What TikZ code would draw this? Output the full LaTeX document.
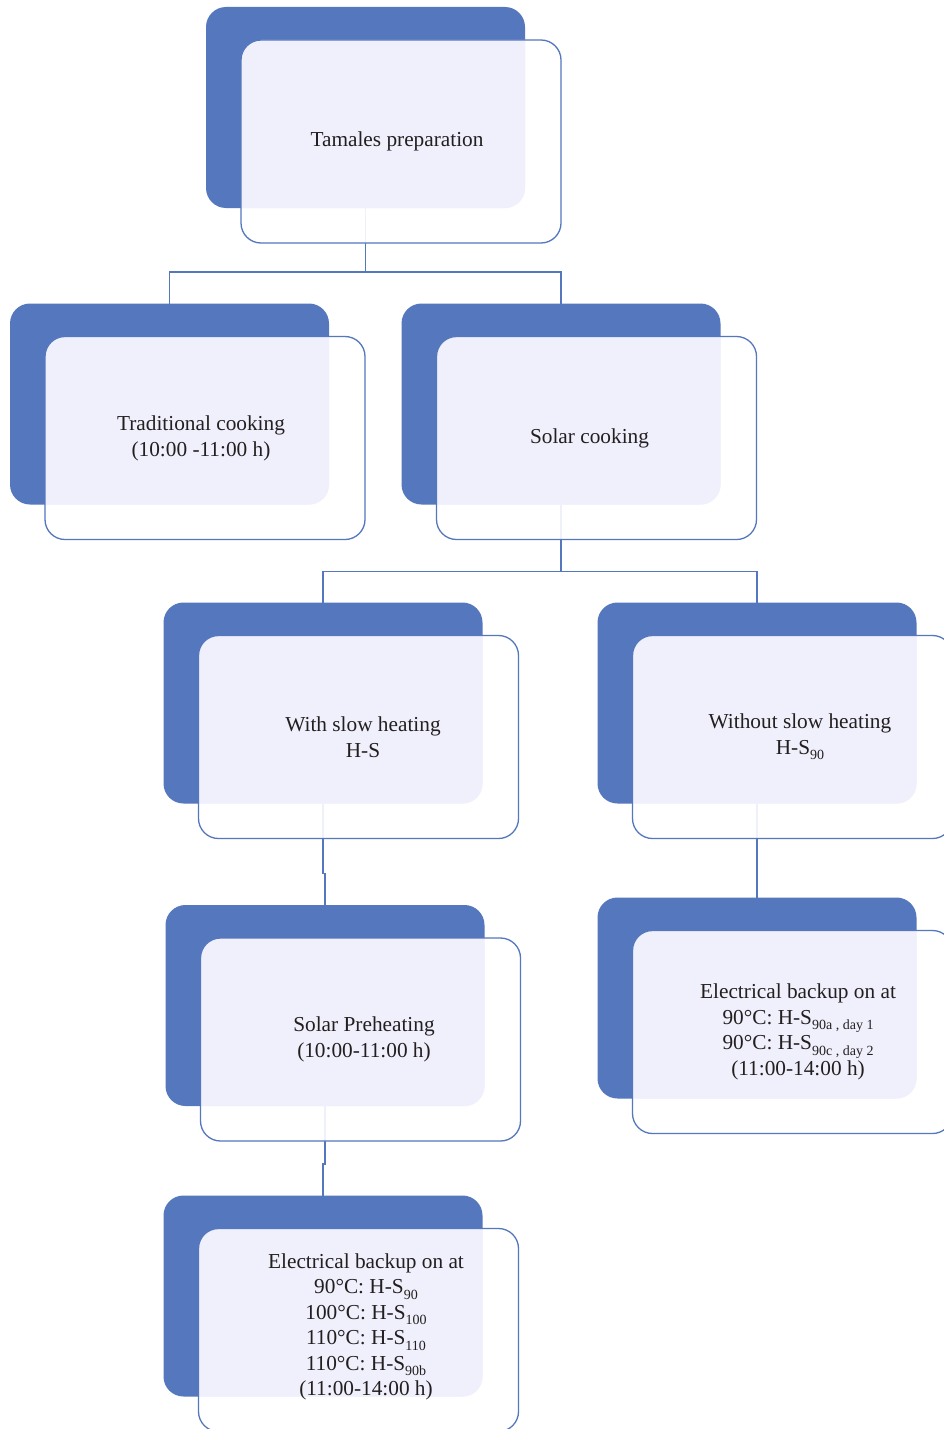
\documentclass[tikz,border=0pt]{standalone}
\usepackage{fontspec}
\setmainfont{Liberation Serif}
\definecolor{sablue}{RGB}{84,119,189}
\definecolor{lav}{RGB}{240,240,252}
\definecolor{txt}{RGB}{35,31,32}
\newcommand\subtxt[1]{\raisebox{-5.5pt}{\fontsize{14}{14}\selectfont #1}}
\tikzset{
  backbox/.style={rectangle, rounded corners=20pt, fill=sablue, draw=none,
    minimum width=319pt, minimum height=201pt, inner sep=0pt, outer sep=0pt},
  frontbox/.style={rectangle, rounded corners=20pt, fill=white, fill opacity=0.9,
    draw=none, minimum width=320pt, minimum height=203pt, inner sep=0pt, outer sep=0pt},
  frontline/.style={draw=sablue, line width=1.3pt, rounded corners=20pt},
  conn/.style={draw=sablue, line width=1.3pt},
  lbl/.style={align=center, text=txt, inner sep=0pt,
    font=\fontsize{21.3}{25.5}\selectfont}
}
\begin{document}
\begin{tikzpicture}[x=1pt,y=-1pt]
\path[use as bounding box, clip] (0,0) rectangle (944,1429);
\fill[white] (0,0) rectangle (944,1429);
% back boxes
\node[backbox] (b1) at (365.5,107.5) {};
\node[backbox] (b2) at (169.5,404) {};
\node[backbox] (b3) at (561,404) {};
\node[backbox] (b4) at (323,703) {};
\node[backbox] (b5) at (757,703) {};
\node[backbox] (b6) at (325,1005.5) {};
\node[backbox] (b7) at (757,998) {};
\node[backbox] (b8) at (323,1296) {};
% connectors
\draw[conn] (b1.south) -- ++(0,64) coordinate (j1) -| (b2.north);
\draw[conn] (j1) -| (b3.north);
\draw[conn] (b3.south) -- ++(0,67) coordinate (j2) -| (b4.north);
\draw[conn] (j2) -| (b5.north);
\draw[conn] (b4.south) -- ++(0,70) -| (b6.north);
\draw[conn] (b5.south) -- (b7.north);
\draw[conn] (b6.south) -- ++(0,58) -| (b8.north);
% front boxes
\foreach \i in {1,...,8}{
  \node[frontbox] (f\i) at ([shift={(35.5,34)}]b\i.center) {};
  \begin{scope}
    \clip[rounded corners=20pt] (b\i.south west) rectangle (b\i.north east);
    \fill[lav, rounded corners=20pt] (f\i.south west) rectangle (f\i.north east);
  \end{scope}
  \draw[frontline] (f\i.south west) rectangle (f\i.north east);
}
% labels
\node[lbl] (t1) at (397,141.5) {Tamales preparation};
\node[lbl] (t2) at (201,438.5) {Traditional cooking\\(10:00 -11:00 h)};
\node[lbl] (t3) at (589.5,438) {Solar cooking};
\node[lbl] (t4) at (363,737) {With slow heating\\H-S};
\node[lbl] (t5) at (800,737) {Without slow heating\\H-S\subtxt{90}};
\node[lbl] (t6) at (364,1039.5) {Solar Preheating\\(10:00-11:00 h)};
\node[lbl] (t7) at (798,1032) {Electrical backup on at\\90°C: H-S\subtxt{90a , day 1}\\90°C: H-S\subtxt{90c , day 2}\\(11:00-14:00 h)};
\node[lbl] (t8) at (366,1327) {Electrical backup on at\\90°C: H-S\subtxt{90}\\100°C: H-S\subtxt{100}\\110°C: H-S\subtxt{110}\\110°C: H-S\subtxt{90b}\\(11:00-14:00 h)};
\end{tikzpicture}
\end{document}
